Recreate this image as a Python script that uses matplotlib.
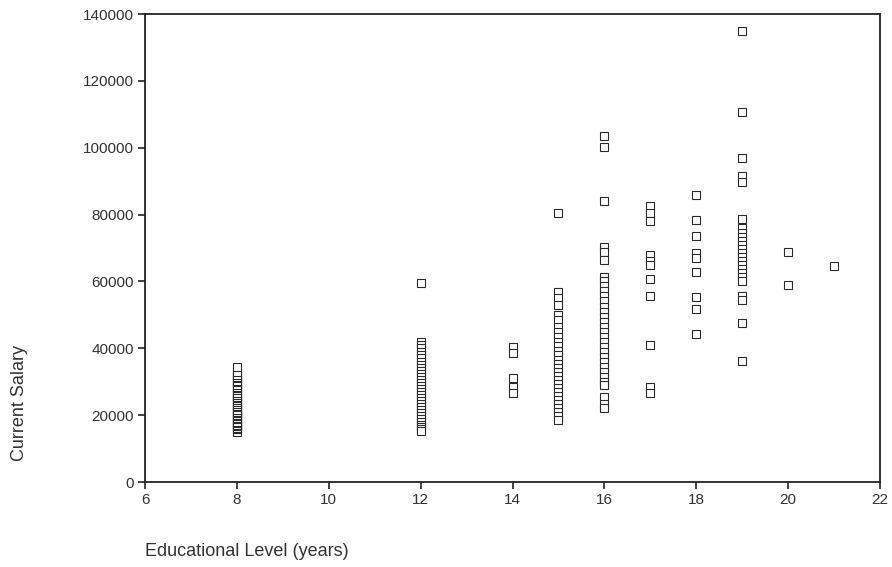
import matplotlib
matplotlib.use("Agg")
import matplotlib.pyplot as plt
import numpy as np

plt.rcParams['font.family'] = ['Liberation Sans', 'DejaVu Sans']

# salaries, grouped by years of education
sal_8 = [15000, 15750, 16200, 16800, 17100, 17550, 18000, 18750, 19200, 19650,
         20100, 20550, 21000, 21600, 22350, 22800, 23250, 24000, 24450, 25050,
         25500, 26100, 26700, 27450, 28050, 28500, 29100, 29850, 30300, 31050,
         31500, 32100, 33000, 34350]
sal_12 = [59400, 42000, 41100, 40200, 39000, 38100, 37200, 36000, 35100, 34200,
          33300, 32400, 31500, 30600, 29700, 28800, 27900, 27000, 26100, 25200,
          24300, 23400, 22500, 21600, 20700, 19800, 18900, 18000, 17100, 16500,
          15900, 15300]
sal_14 = [40500, 38500, 31000, 28500, 26500]
sal_15 = [80400, 56700, 54900, 52800, 50100, 48600, 46500, 45000, 43500, 42000,
          40800, 39300, 38100, 36600, 35400, 34200, 33000, 31800, 30600, 29400,
          28200, 27000, 25800, 24600, 23400, 22200, 21000, 19800, 18600]
sal_16 = [103500, 100200, 84000, 70200, 68700, 66300, 61200, 60000, 58500, 57000,
          55500, 54000, 52500, 51000, 49500, 48000, 46500, 45000, 43500, 42000,
          40500, 39000, 37500, 36000, 34500, 33000, 31500, 30000, 29100, 25500,
          23400, 22000]
sal_17 = [82500, 80400, 78000, 67800, 66000, 64800, 60600, 55500, 41000, 28500, 26500]
sal_18 = [86000, 78400, 73600, 68500, 67000, 62800, 55300, 51700, 44300]
sal_19 = [135000, 110700, 97000, 91500, 89700, 78600, 75900, 74400, 73200, 72000,
          70800, 69600, 68400, 67200, 66000, 64800, 63600, 62400, 61200, 60000,
          55500, 54300, 47700, 36300]
sal_20 = [68800, 58900]
sal_21 = [64500]

levels = [8, 12, 14, 15, 16, 17, 18, 19, 20, 21]
groups = [sal_8, sal_12, sal_14, sal_15, sal_16, sal_17, sal_18, sal_19, sal_20, sal_21]

x_ticks = [6, 8, 10, 12, 14, 16, 18, 20, 22]
y_ticks = [0, 20000, 40000, 60000, 80000, 100000, 120000, 140000]

edu = np.concatenate([[lv] * len(g) for lv, g in zip(levels, groups)])
salary = np.concatenate(groups)

fig = plt.figure(figsize=(8.92, 5.67), dpi=100)
ax = fig.add_axes([145 / 892, 85 / 567, 735 / 892, 468 / 567])

ax.plot(edu, salary, linestyle='none', marker='s', markersize=5.5,
        markerfacecolor='white', markeredgecolor='#2a2a2a', markeredgewidth=0.8)

ax.set_xlim(6, 22)
ax.set_ylim(0, 140000)
ax.set_xticks(x_ticks)
ax.set_yticks(y_ticks)
ax.tick_params(direction='out', length=5, width=1.2, labelsize=11,
               colors='#222222', labelcolor='#333333', pad=3, top=False, right=False)
for s in ax.spines.values():
    s.set_linewidth(1.3)
    s.set_color('#222222')

fig.text(20 / 892, 1 - 403 / 567, 'Current Salary', rotation=90,
         ha='center', va='center', fontsize=13, color='#333333')
fig.text(145 / 892, 1 - 551 / 567, 'Educational Level (years)',
         ha='left', va='center', fontsize=13, color='#333333')

fig.savefig('out.png', dpi=100)
